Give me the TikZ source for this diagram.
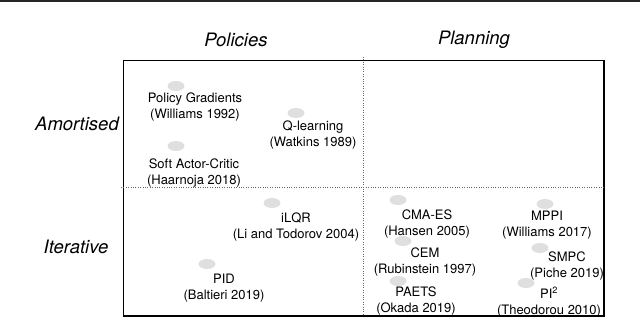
\documentclass[tikz,border=0pt]{standalone}
\usepackage{fontspec}
\setmainfont{TeX Gyre Heros}
\usepackage{xcolor}
\usetikzlibrary{shapes.geometric}

\tikzset{
  dot/.style={ellipse, fill=gray!25, minimum width=17pt, minimum height=10pt, inner sep=0pt},
  method/.style={align=center, font=\fontsize{13}{16}\selectfont, inner sep=0pt},
  header/.style={font=\fontsize{18.5}{20}\selectfont\itshape, inner sep=0pt},
}

\begin{document}
\begin{tikzpicture}[x=1pt, y=-1pt]
    \useasboundingbox (0,0) rectangle (640,318);

    % Top rule
    \fill[black!85] (0,0) rectangle (640,2.5);

    % Frame and quadrant dividers
    \coordinate (nw) at (123.5,60.5);
    \coordinate (se) at (604,316);
    \draw[line width=1.3pt] (nw) rectangle (se);
    \coordinate (vtop) at (363,57);
    \coordinate (vbot) at (363,316);
    \coordinate (hleft) at (121,187);
    \coordinate (hright) at (604,187);
    \draw[dotted, gray!80!black] (vtop) -- (vbot);
    \draw[dotted, gray!80!black] (hleft) -- (hright);

    % Column and row headers
    \node[header] (policies) at (236,40) {Policies};
    \node[header] (planning) at (474,40) {Planning};
    \node[header, anchor=east] (amortised) at (119,124) {Amortised};
    \node[header] (iterative) at (76,247) {Iterative};

    % Amortised policies
    \node[dot] (pg-dot) at (176,86) {};
    \node[method] (pg) at (195,107) {Policy Gradients\\(Williams 1992)};
    \node[dot] (ql-dot) at (296,113) {};
    \node[method] (ql) at (313,135) {Q-learning\\(Watkins 1989)};
    \node[dot] (sac-dot) at (176,146) {};
    \node[method] (sac) at (194,173) {Soft Actor-Critic\\(Haarnoja 2018)};

    % Iterative policies
    \node[dot] (ilqr-dot) at (272,203) {};
    \node[method] (ilqr) at (296,227) {iLQR\\(Li and Todorov 2004)};
    \node[dot] (pid-dot) at (207,264) {};
    \node[method] (pid) at (224,288) {PID\\(Baltieri 2019)};

    % Iterative planning
    \node[dot] (cma-dot) at (398,200) {};
    \node[method] (cma) at (427,224) {CMA-ES\\(Hansen 2005)};
    \node[dot] (cem-dot) at (403,241) {};
    \node[method] (cem) at (425,262) {CEM\\(Rubinstein 1997)};
    \node[dot] (paets-dot) at (398,281) {};
    \node[method] (paets) at (416,301) {PAETS\\(Okada 2019)};
    \node[dot] (mppi-dot) at (545,204) {};
    \node[method] (mppi) at (547,225) {MPPI\\(Williams 2017)};
    \node[dot] (smpc-dot) at (540,248) {};
    \node[method] (smpc) at (567,266) {SMPC\\(Piche 2019)};
    \node[dot] (pi2-dot) at (526,283) {};
    \node[method] (pi2) at (549,302) {PI\textsuperscript{2}\\(Theodorou 2010)};
\end{tikzpicture}
\end{document}
